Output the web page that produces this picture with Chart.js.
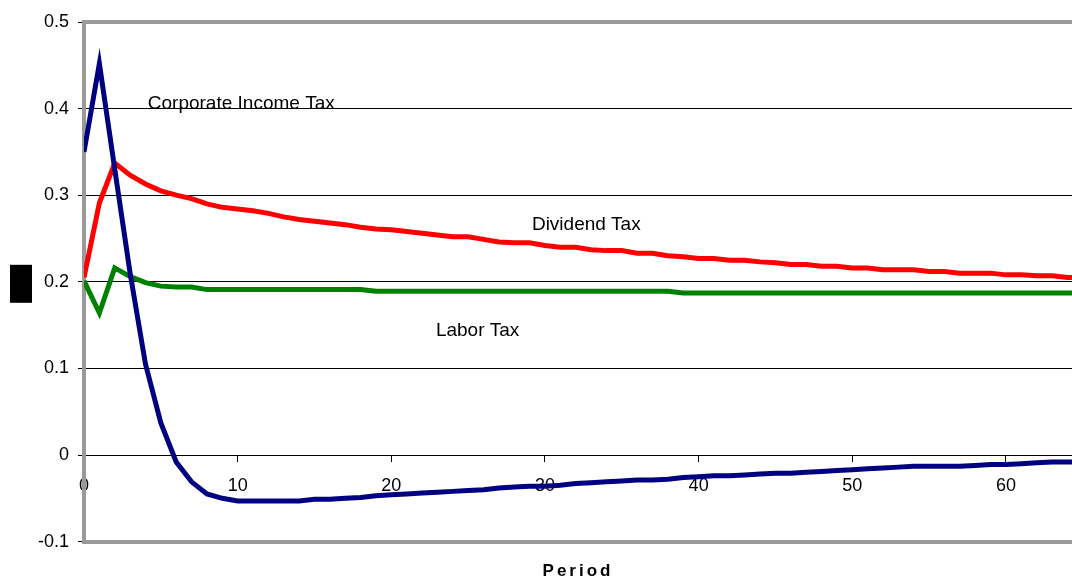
<!DOCTYPE html>
<html><head><meta charset="utf-8">
<script src="https://cdn.jsdelivr.net/npm/chart.js@4/dist/chart.umd.min.js"></script>
<style>html,body{margin:0;padding:0;background:#fff}#wrap{width:1072px;height:580px;position:relative}</style>
</head><body><div id="wrap"><canvas id="c"></canvas></div>
<script>
const periods = [0,1,2,3,4,5,6,7,8,9,10,11,12,13,14,15,16,17,18,19,20,21,22,23,24,25,26,27,28,29,30,31,32,33,34,35,36,37,38,39,40,41,42,43,44,45,46,47,48,49,50,51,52,53,54,55,56,57,58,59,60,61,62,63,64,65];
const corporateTax = [0.350,0.452,0.330,0.210,0.105,0.037,-0.008,-0.031,-0.045,-0.050,-0.053,-0.053,-0.053,-0.053,-0.053,-0.051,-0.051,-0.050,-0.049,-0.047,-0.046,-0.045,-0.044,-0.043,-0.042,-0.041,-0.040,-0.038,-0.037,-0.036,-0.036,-0.035,-0.033,-0.032,-0.031,-0.030,-0.029,-0.029,-0.028,-0.026,-0.025,-0.024,-0.024,-0.023,-0.022,-0.021,-0.021,-0.020,-0.019,-0.018,-0.017,-0.016,-0.015,-0.014,-0.013,-0.013,-0.013,-0.013,-0.012,-0.011,-0.011,-0.010,-0.009,-0.008,-0.008,-0.008];
const dividendTax = [0.205,0.291,0.337,0.323,0.313,0.305,0.300,0.296,0.290,0.286,0.284,0.282,0.279,0.275,0.272,0.270,0.268,0.266,0.263,0.261,0.260,0.258,0.256,0.254,0.252,0.252,0.249,0.246,0.245,0.245,0.242,0.240,0.240,0.237,0.236,0.236,0.233,0.233,0.230,0.229,0.227,0.227,0.225,0.225,0.223,0.222,0.220,0.220,0.218,0.218,0.216,0.216,0.214,0.214,0.214,0.212,0.212,0.210,0.210,0.210,0.208,0.208,0.207,0.207,0.205,0.205];
const laborTax = [0.201,0.164,0.216,0.206,0.199,0.195,0.194,0.194,0.191,0.191,0.191,0.191,0.191,0.191,0.191,0.191,0.191,0.191,0.191,0.189,0.189,0.189,0.189,0.189,0.189,0.189,0.189,0.189,0.189,0.189,0.189,0.189,0.189,0.189,0.189,0.189,0.189,0.189,0.189,0.187,0.187,0.187,0.187,0.187,0.187,0.187,0.187,0.187,0.187,0.187,0.187,0.187,0.187,0.187,0.187,0.187,0.187,0.187,0.187,0.187,0.187,0.187,0.187,0.187,0.187,0.187];
const yTickValues = [-0.1,0,0.1,0.2,0.3,0.4,0.5];
const yTickLabels = ['-0.1','0','0.1','0.2','0.3','0.4','0.5'];
const xTickValues = [0,10,20,30,40,50,60];
const xTickLabels = ['0','10','20','30','40','50','60'];
const seriesNames = ['Corporate Income Tax','Dividend Tax','Labor Tax'];
const xTitle = 'Period';
// in-chart labels: [text, x value, y value]
const annotations = [['Corporate Income Tax',4.15,0.406],['Dividend Tax',29.15,0.266],['Labor Tax',22.9,0.143]];

const FONT = "'Liberation Sans', Arial, sans-serif";

const overlay = {
  id: 'overlay',
  afterDatasetsDraw(chart) {
    const ctx = chart.ctx, xs = chart.scales.x, ys = chart.scales.y;
    ctx.save();
    ctx.fillStyle = '#000';
    ctx.font = '19px ' + FONT;
    ctx.textAlign = 'left';
    ctx.textBaseline = 'middle';
    annotations.forEach(a => ctx.fillText(a[0], xs.getPixelForValue(a[1]), ys.getPixelForValue(a[2])));
    ctx.restore();
    // spaced lettering for the axis title drawn next (xb layer has z:1)
    ctx.letterSpacing = '3px';
  },
  afterDraw(chart) {
    const ctx = chart.ctx, ys = chart.scales.y;
    ctx.letterSpacing = '0px';
    ctx.save();
    ctx.fillStyle = '#000';
    const cy = ys.getPixelForValue(0.2);
    ctx.fillRect(10, cy - 17, 22, 38);
    ctx.restore();
  }
};

new Chart(document.getElementById('c'), {
  type: 'line',
  data: {
    labels: periods,
    datasets: [
      {label: seriesNames[0], data: corporateTax, borderColor: '#000080', borderWidth: 5, pointRadius: 0, tension: 0, xAxisID: 'x', yAxisID: 'y'},
      {label: seriesNames[1], data: dividendTax, borderColor: '#ff0000', borderWidth: 5, pointRadius: 0, tension: 0, xAxisID: 'x', yAxisID: 'y'},
      {label: seriesNames[2], data: laborTax, borderColor: '#008000', borderWidth: 5, pointRadius: 0, tension: 0, xAxisID: 'x', yAxisID: 'y'}
    ]
  },
  options: {
    responsive: true,
    maintainAspectRatio: false,
    animation: false,
    events: [],
    layout: {padding: {left: 29, top: 22, right: 0, bottom: 0}},
    plugins: {legend: {display: false}, tooltip: {enabled: false}, title: {display: false}},
    scales: {
      x: {
        type: 'linear', min: 0, max: 64.3,
        position: {y: 0},
        afterBuildTicks: s => { s.ticks = xTickValues.map(v => ({value: v})); },
        ticks: {callback: (v) => xTickLabels[xTickValues.indexOf(v)], color: '#000', font: {family: FONT, size: 18}, padding: 14, maxRotation: 0, autoSkip: false},
        grid: {drawOnChartArea: false, drawTicks: true, tickLength: 6, color: '#000', lineWidth: 1},
        border: {display: true, color: '#000', width: 1}
      },
      xb: {
        type: 'linear', min: 0, max: 64.3, position: 'bottom',
        ticks: {display: false, z: 1},
        grid: {display: false, drawTicks: false, z: 1},
        border: {display: true, color: '#999', width: 4, z: 1},
        title: {display: true, text: xTitle, color: '#000', font: {family: FONT, size: 17, weight: 'bold'}, padding: {top: 20, bottom: -2}}
      },
      xt: {
        type: 'linear', min: 0, max: 64.3, position: 'top',
        ticks: {display: false},
        grid: {display: false, drawTicks: false},
        border: {display: true, color: '#999', width: 4}
      },
      y: {
        type: 'linear', min: -0.1, max: 0.5,
        afterBuildTicks: s => { s.ticks = yTickValues.map(v => ({value: v})); },
        ticks: {callback: (v) => yTickLabels[yTickValues.findIndex(t => Math.abs(t - v) < 1e-9)], color: '#000', font: {family: FONT, size: 18}, padding: 9, autoSkip: false},
        grid: {color: '#000', lineWidth: 1, tickLength: 6, drawTicks: true},
        border: {display: true, color: '#999', width: 4}
      }
    }
  },
  plugins: [overlay]
});
</script></body></html>
